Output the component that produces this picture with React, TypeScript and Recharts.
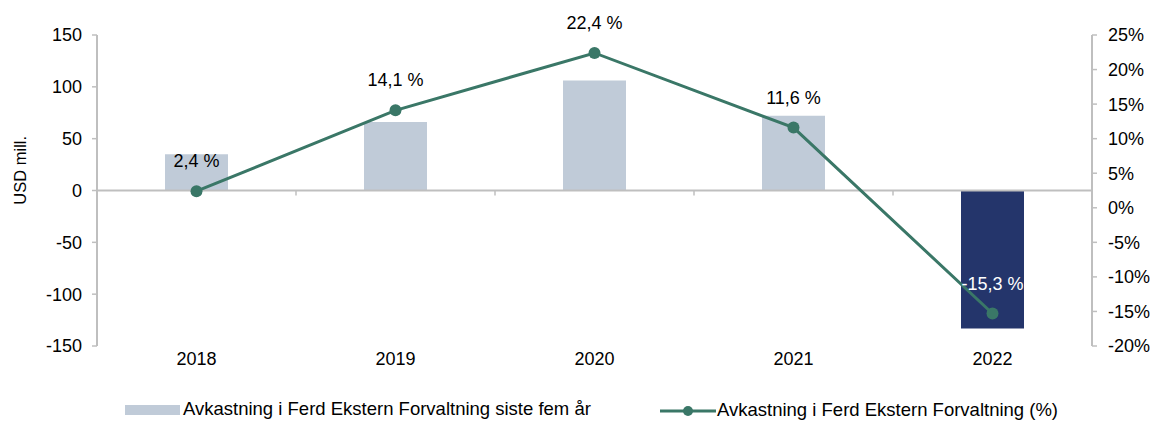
import * as React from "react";
import {
  ComposedChart,
  Bar,
  Line,
  XAxis,
  YAxis,
  Cell,
  LabelList,
  Legend,
  ReferenceLine,
} from "recharts";

const YEARS = ["2018", "2019", "2020", "2021", "2022"];
const RESULT_USD = [35, 66, 106, 72, -133];
const RETURN_PCT = [2.4, 14.1, 22.4, 11.6, -15.3];
const LEFT_TICKS = [-150, -100, -50, 0, 50, 100, 150];
const RIGHT_TICKS = [-20, -15, -10, -5, 0, 5, 10, 15, 20, 25];

const BAR_NAME = "Avkastning i Ferd Ekstern Forvaltning siste fem år";
const LINE_NAME = "Avkastning i Ferd Ekstern Forvaltning (%)";

const COLORS = {
  bar: "#c0cbd8",
  barNegative: "#24356b",
  line: "#3a7767",
  axis: "#bfbfbf",
  text: "#000000",
};

const FONT = "'Liberation Sans', Arial, sans-serif";

const chartData = YEARS.map((year, i) => ({
  year,
  usd: RESULT_USD[i],
  pct: RETURN_PCT[i],
}));

const fmtPct = (v: number) => `${v.toFixed(1).replace(".", ",")} %`;

// zero line with small ticks between categories
function ZeroLine(props: any) {
  const { x1, y1, x2 } = props;
  const step = (x2 - x1) / YEARS.length;
  const ticks = [];
  for (let i = 1; i < YEARS.length; i++) {
    const x = x1 + step * i;
    ticks.push(<line key={i} x1={x} x2={x} y1={y1} y2={y1 + 5} stroke={COLORS.axis} strokeWidth={1.5} />);
  }
  return (
    <g>
      <line x1={x1} x2={x2} y1={y1} y2={y1} stroke={COLORS.axis} strokeWidth={2} />
      {ticks}
    </g>
  );
}

function LineLabel(props: any) {
  const { x, y, value, index } = props;
  const last = index === YEARS.length - 1;
  return (
    <text
      x={x}
      y={y - 24}
      textAnchor="middle"
      fontSize={18}
      fontFamily={FONT}
      fill={last ? "#ffffff" : COLORS.text}
    >
      {fmtPct(value)}
    </text>
  );
}

function YLabel(props: any) {
  const { viewBox } = props;
  const x = viewBox.x + 20;
  const y = viewBox.y + viewBox.height * 0.435;
  return (
    <text x={x} y={y} transform={`rotate(-90 ${x} ${y})`} textAnchor="middle" dominantBaseline="central" fontSize={16.5} fontFamily={FONT} fill={COLORS.text}>
      USD mill.
    </text>
  );
}

function LegendContent() {
  return (
    <div style={{ position: "relative", height: 16, lineHeight: "16px", fontSize: 18.5, fontFamily: FONT, color: COLORS.text, whiteSpace: "nowrap" }}>
      <div style={{ position: "absolute", left: 125, top: -4, display: "flex", alignItems: "center" }}>
        <span style={{ display: "inline-block", width: 55, height: 10, background: COLORS.bar, marginRight: 3, marginTop: 2 }} />
        <span>{BAR_NAME}</span>
      </div>
      <div style={{ position: "absolute", left: 660, top: -4, display: "flex", alignItems: "center" }}>
        <svg width={56} height={16} style={{ marginRight: 1, marginTop: 2 }}>
          <line x1={0} x2={56} y1={8} y2={8} stroke={COLORS.line} strokeWidth={3} />
          <circle cx={28} cy={8} r={5} fill={COLORS.line} />
        </svg>
        <span>{LINE_NAME}</span>
      </div>
    </div>
  );
}

export default function App() {
  return (
    <div style={{ position: "absolute", left: 0, top: 0, width: 1152, height: 421, background: "#fff", overflow: "hidden" }}>
      <ComposedChart
        width={1152}
        height={421}
        data={chartData}
        margin={{ top: 35, right: 0, bottom: 0, left: 0 }}
      >
        <XAxis
          dataKey="year"
          xAxisId="x"
          height={59}
          axisLine={false}
          tickLine={false}
          tickSize={0}
          tickMargin={6}
          tick={{ fill: COLORS.text, fontSize: 18, fontFamily: FONT }}
        />
        <YAxis
          yAxisId="left"
          width={97}
          domain={[-150, 150]}
          ticks={LEFT_TICKS}
          interval={0}
          allowDataOverflow
          axisLine={{ stroke: COLORS.axis, strokeWidth: 2 }}
          tickLine={{ stroke: COLORS.axis, strokeWidth: 1.5 }}
          tickSize={5}
          tickMargin={10}
          tick={{ fill: COLORS.text, fontSize: 18, fontFamily: FONT }}
          label={<YLabel />}
        />
        <YAxis
          yAxisId="right"
          orientation="right"
          width={60}
          domain={[-20, 25]}
          ticks={RIGHT_TICKS}
          interval={0}
          allowDataOverflow
          tickFormatter={(v: number) => `${v}%`}
          axisLine={{ stroke: COLORS.axis, strokeWidth: 2 }}
          tickLine={{ stroke: COLORS.axis, strokeWidth: 1.5 }}
          tickSize={5}
          tickMargin={11}
          tick={{ fill: COLORS.text, fontSize: 18, fontFamily: FONT, textAnchor: "start" }}
        />
        <ReferenceLine y={0} yAxisId="left" xAxisId="x" shape={<ZeroLine />} />
        <Bar
          dataKey="usd"
          name={BAR_NAME}
          xAxisId="x"
          yAxisId="left"
          barSize={63}
          fill={COLORS.bar}
          isAnimationActive={false}
        >
          {chartData.map((d) => (
            <Cell key={d.year} fill={d.usd < 0 ? COLORS.barNegative : COLORS.bar} />
          ))}
        </Bar>
        <Line
          dataKey="pct"
          name={LINE_NAME}
          xAxisId="x"
          yAxisId="right"
          stroke={COLORS.line}
          strokeWidth={3}
          dot={{ r: 6, fill: COLORS.line, stroke: COLORS.line, strokeWidth: 0 }}
          activeDot={false}
          isAnimationActive={false}
        >
          <LabelList dataKey="pct" content={<LineLabel />} />
        </Line>
        <Legend verticalAlign="bottom" height={16} content={<LegendContent />} />
      </ComposedChart>
    </div>
  );
}
